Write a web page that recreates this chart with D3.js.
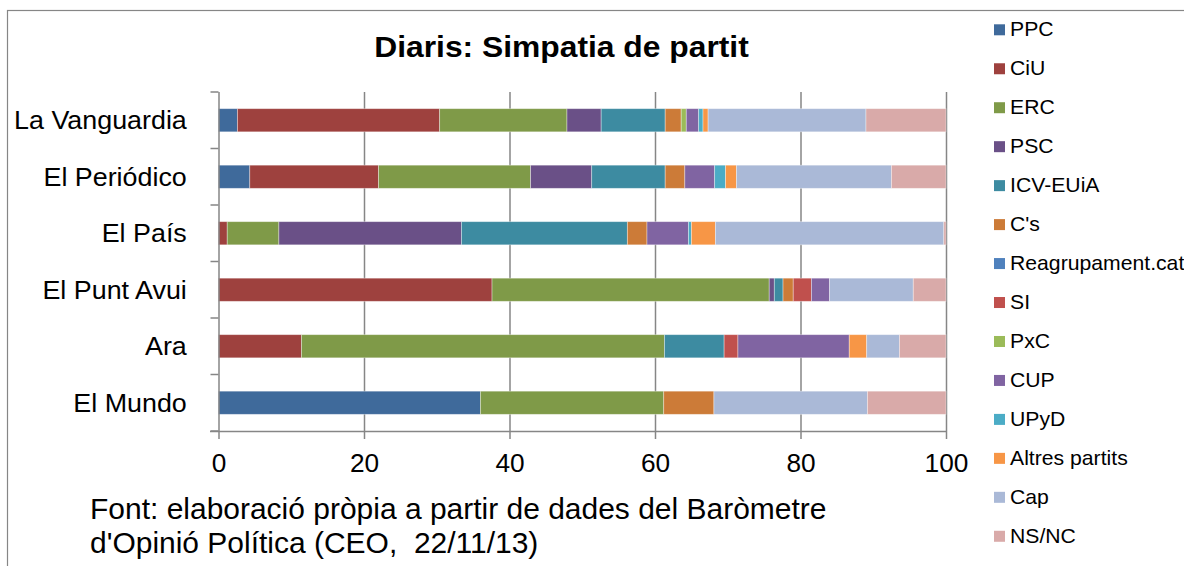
<!DOCTYPE html>
<html>
<head>
<meta charset="utf-8">
<script src="https://cdn.jsdelivr.net/npm/d3@7"></script>
<style>
  html, body { margin: 0; padding: 0; background: #fff; }
  svg { display: block; font-family: "Liberation Sans", Arial, sans-serif; }
  text { white-space: pre; }
</style>
</head>
<body>
<svg id="chart" width="1184" height="566"></svg>
<script>
// ---- data ----
const title = "Diaris: Simpatia de partit";
const newspapers = ["La Vanguardia", "El Periódico", "El País", "El Punt Avui", "Ara", "El Mundo"];
const parties = ["PPC", "CiU", "ERC", "PSC", "ICV-EUiA", "C's", "Reagrupament.cat", "SI", "PxC", "CUP", "UPyD", "Altres partits", "Cap", "NS/NC"];
const colors = ["#3f6a9b", "#9e413e", "#7f9a48", "#6a5087", "#3d8ba1", "#cc7b38", "#4f81bd", "#c0504d", "#9bbb59", "#8064a2", "#4bacc6", "#f79646", "#aab9d7", "#d9aaa9"];
const PPC    = [2.6, 4.3, 0, 0, 0, 36.0];
const CiU    = [27.8, 17.7, 1.2, 37.6, 11.4, 0];
const ERC    = [17.5, 20.9, 7.1, 38.1, 49.9, 25.2];
const PSC    = [4.7, 8.4, 25.1, 0.7, 0, 0];
const ICV    = [8.8, 10.1, 22.8, 1.2, 8.2, 0];
const Cs     = [2.2, 2.7, 2.7, 1.4, 0, 6.9];
const Reagr  = [0, 0, 0, 0, 0, 0];
const SI     = [0, 0, 0, 2.5, 1.9, 0];
const PxC    = [0.7, 0, 0, 0, 0, 0];
const CUP    = [1.7, 4.1, 5.7, 2.5, 15.3, 0];
const UPyD   = [0.6, 1.5, 0.4, 0, 0, 0];
const Altres = [0.7, 1.5, 3.3, 0, 2.4, 0];
const Cap    = [21.7, 21.3, 31.4, 11.5, 4.5, 21.1];
const NSNC   = [11.0, 7.5, 0.3, 4.5, 6.4, 10.8];
const xTicks = [0, 20, 40, 60, 80, 100];
const footnote = ["Font: elaboració pròpia a partir de dades del Baròmetre", "d'Opinió Política (CEO,  22/11/13)"];

const seriesValues = [PPC, CiU, ERC, PSC, ICV, Cs, Reagr, SI, PxC, CUP, UPyD, Altres, Cap, NSNC];
const table = newspapers.map((n, i) => {
  const row = { paper: n };
  parties.forEach((p, j) => row[p] = seriesValues[j][i]);
  return row;
});

// ---- layout ----
const svg = d3.select("#chart");
const plot = { left: 218.5, right: 946, top: 92, bottom: 431 };
const axisColor = "#868686";

const x = d3.scaleLinear().domain([0, 100]).range([plot.left, plot.right]);
const y = d3.scaleBand().domain(newspapers).range([plot.top, plot.bottom]).padding(0);
const barH = y.bandwidth() * 0.41;

// outer chart border
svg.append("rect").attr("x", 7.5).attr("y", 10.5).attr("width", 1300).attr("height", 700)
  .attr("fill", "none").attr("stroke", axisColor).attr("stroke-width", 1.2);

// title
svg.append("text").attr("transform", "translate(561.5,57) scale(1.06,1)")
  .attr("text-anchor", "middle").attr("font-size", 30).attr("font-weight", "bold")
  .attr("fill", "#000").text(title);

// gridlines
const grid = svg.append("g").attr("transform", `translate(0,${plot.bottom})`)
  .call(d3.axisBottom(x).tickValues(xTicks.slice(1)).tickSize(-(plot.bottom - plot.top)).tickFormat(""));
grid.select(".domain").remove();
grid.selectAll("line").attr("stroke", axisColor).attr("stroke-width", 1.5);

// bars
const stack = d3.stack().keys(parties);
const stacked = stack(table);
svg.append("g").selectAll("g").data(stacked).join("g")
  .attr("fill", (d, i) => colors[i])
  .selectAll("rect").data(d => d.filter(s => s[1] - s[0] > 0)).join("rect")
  .attr("x", d => x(d[0]))
  .attr("width", d => x(d[1]) - x(d[0]))
  .attr("y", d => y(d.data.paper) + (y.bandwidth() - barH) / 2)
  .attr("height", barH)
  .attr("stroke", "rgba(255,255,255,0.45)").attr("stroke-width", 0.8);

// x axis
const xAxis = svg.append("g").attr("transform", `translate(0,${plot.bottom})`)
  .call(d3.axisBottom(x).tickValues(xTicks).tickSize(8).tickFormat(d3.format("d")));
xAxis.select(".domain").attr("d", `M${plot.left - 8.5},0.5H${plot.right}`).attr("stroke", axisColor).attr("stroke-width", 1.5);
xAxis.selectAll("line").attr("stroke", axisColor).attr("stroke-width", 1.5);
xAxis.selectAll("text").attr("y", 41).attr("dy", 0).attr("font-size", 25)
  .attr("font-family", "Liberation Sans, Arial, sans-serif")
  .attr("fill", "#000").attr("transform", "scale(1.05,1)");

// y axis
const yAxis = svg.append("g").attr("transform", `translate(${plot.left},0)`)
  .call(d3.axisLeft(y).tickSize(0).tickPadding(29.5));
yAxis.select(".domain").attr("d", `M0.5,${plot.top}V${plot.bottom}`).attr("stroke", axisColor).attr("stroke-width", 1.5);
yAxis.selectAll("text").attr("dy", 9).attr("font-size", 25)
  .attr("font-family", "Liberation Sans, Arial, sans-serif")
  .attr("fill", "#000").attr("transform", "scale(1.075,1)");
// category boundary ticks
const bounds = newspapers.map(n => y(n)).concat([y(newspapers[newspapers.length - 1]) + y.bandwidth()]);
yAxis.append("g").selectAll("line").data(bounds).join("line")
  .attr("x1", -8).attr("x2", 0).attr("y1", d => d).attr("y2", d => d)
  .attr("stroke", axisColor).attr("stroke-width", 1.5);

// footnote
footnote.forEach((t, i) => {
  svg.append("text").attr("transform", `translate(90,${519 + i * 34}) scale(1.034,1)`)
    .attr("font-size", 29).attr("fill", "#000").text(t);
});

// legend
const legend = svg.append("g");
parties.forEach((p, i) => {
  const by = 36.3 + i * 38.96;
  legend.append("rect").attr("x", 994).attr("y", by - 12).attr("width", 11).attr("height", 11).attr("fill", colors[i]);
  legend.append("text").attr("transform", `translate(1010,${by}) scale(1.06,1)`)
    .attr("font-size", 20).attr("fill", "#000").text(p);
});
</script>
</body>
</html>
